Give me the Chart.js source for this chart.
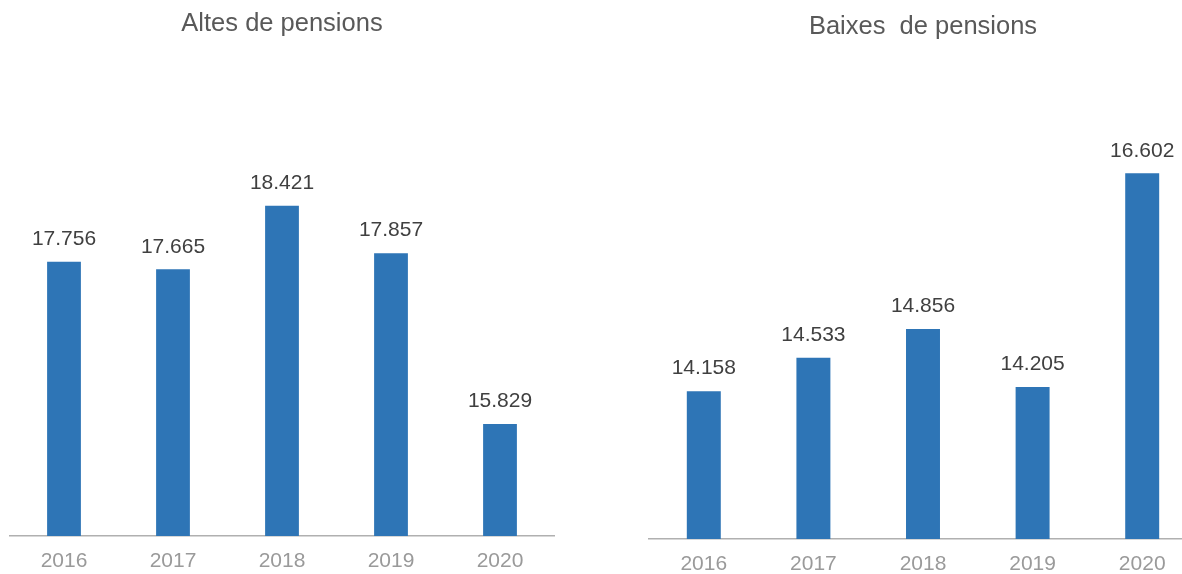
<!DOCTYPE html>
<html>
<head>
<meta charset="utf-8">
<script src="https://cdn.jsdelivr.net/npm/chart.js@4"></script>
<style>
  html, body { margin: 0; padding: 0; background: #fff; }
  body { width: 1182px; height: 574px; overflow: hidden; position: relative; }
  canvas { position: absolute; top: 0; }
  #altesChart { left: 0; }
  #baixesChart { left: 640px; }
</style>
</head>
<body>
<canvas id="altesChart" width="564" height="588"></canvas>
<canvas id="baixesChart" width="566" height="594"></canvas>
<script>
const years = ["2016", "2017", "2018", "2019", "2020"];
const altes = [17756, 17665, 18421, 17857, 15829];
const baixes = [14158, 14533, 14856, 14205, 16602];

const FONT = "'Liberation Sans', Arial, sans-serif";

function fmt(v) {
    return String(v).replace(/\B(?=(\d{3})+(?!\d))/g, ".");
}

// value labels above each bar
const barLabels = {
    id: "barLabels",
    afterDatasetsDraw(chart) {
        const ctx = chart.ctx;
        const meta = chart.getDatasetMeta(0);
        const data = chart.data.datasets[0].data;
        ctx.save();
        ctx.font = "21px " + FONT;
        ctx.fillStyle = "#404040";
        ctx.textAlign = "center";
        ctx.textBaseline = "middle";
        meta.data.forEach((bar, i) => {
            ctx.fillText(fmt(data[i]), bar.x, bar.y - 22.5);
        });
        ctx.restore();
    }
};

function makeChart(id, title, values, yMin, yMax, titlePad, layoutPad) {
    const ctx = document.getElementById(id).getContext("2d");
    return new Chart(ctx, {
        type: "bar",
        data: {
            labels: years,
            datasets: [{
                data: values,
                backgroundColor: "#2e75b6",
                borderWidth: 0,
                barPercentage: 0.31,
                categoryPercentage: 1
            }]
        },
        options: {
            responsive: false,
            animation: false,
            layout: { padding: layoutPad },
            plugins: {
                legend: { display: false },
                tooltip: { enabled: false },
                title: {
                    display: true,
                    text: title,
                    color: "#595959",
                    font: { family: FONT, size: 25.5, weight: "normal", lineHeight: 1.2 },
                    padding: titlePad
                }
            },
            scales: {
                x: {
                    grid: { display: false, drawTicks: false },
                    border: { display: true, color: "#b0b0b0", width: 1.5 },
                    ticks: {
                        color: "#9a9a9a",
                        padding: 13,
                        font: { family: FONT, size: 21 }
                    }
                },
                y: {
                    display: false,
                    min: yMin,
                    max: yMax
                }
            }
        },
        plugins: [barLabels]
    });
}

makeChart("altesChart", "Altes de pensions", altes, 14500, 20000,
    { top: 9, bottom: 33 }, { left: 9.5, right: 9.5, top: 0, bottom: 0.8 });
makeChart("baixesChart", "Baixes  de pensions", baixes, 12500, 18000,
    { top: 12, bottom: 6 }, { left: 9, right: 9, top: 0, bottom: 3.8 });
</script>
</body>
</html>
